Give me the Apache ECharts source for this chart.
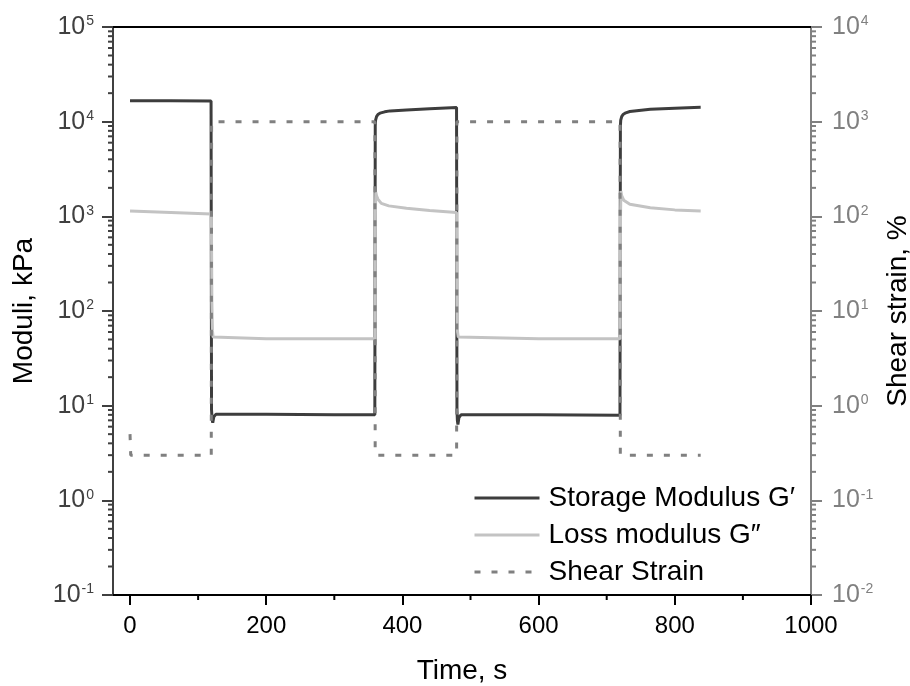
<!DOCTYPE html>
<html>
<head>
<meta charset="utf-8">
<script src="https://cdn.jsdelivr.net/npm/echarts@6/dist/echarts.min.js"></script>
<style>html,body{margin:0;padding:0;background:#fff;overflow:hidden}#chart{width:910px;height:686px}</style>
</head>
<body>
<div id="chart"></div>
<script>
// ---- data ----
const storageTime = [0, 60, 119, 119.7, 120.5, 121.5, 123, 126, 200, 300, 359.5, 360.1, 360.6, 362, 364, 367, 374, 382, 406, 440, 479.5, 480.1, 480.7, 481.5, 483, 486, 600, 719.5, 720.1, 720.6, 722, 724, 728, 734, 764, 800, 838];
const storageModulus = [16600, 16600, 16500, 9, 7.2, 6.6, 7.6, 8.1, 8.1, 8.0, 8.0, 9000, 10400, 11300, 11900, 12300, 12700, 13000, 13300, 13700, 14100, 9, 7.0, 6.3, 7.5, 8.0, 8.0, 7.9, 9000, 10400, 11300, 11900, 12400, 12800, 13500, 13900, 14200];
const lossTime = [0, 60, 119.5, 120.2, 121, 122, 123.5, 200, 300, 359.6, 360.3, 360.8, 362, 364, 369, 380, 406, 440, 479.5, 480.2, 481, 482, 483.5, 600, 719.6, 720.3, 720.8, 722, 725, 734, 764, 800, 838];
const lossModulus = [1140, 1100, 1060, 120, 62, 53, 51, 51, 51, 51, 1000, 1800, 1650, 1520, 1370, 1290, 1220, 1150, 1100, 120, 60, 53, 51, 51, 51, 1000, 1850, 1650, 1480, 1340, 1230, 1170, 1140];
const strainTime = [0, 1, 119.3, 119.8, 359.6, 360, 479.6, 480, 719.6, 720, 838];
const shearStrain = [0.5, 0.3, 0.3, 1000, 1000, 0.3, 0.3, 1000, 1000, 0.3, 0.3];
const seriesNames = ['Storage Modulus G\u2032', 'Loss modulus G\u2033', 'Shear Strain'];
const xTickValues = [0, 200, 400, 600, 800, 1000];
const xMinorTickValues = [100, 300, 500, 700, 900];
const minorMantissas = [2, 3, 4, 5, 6, 7, 8, 9];
const leftDecades = [0.1, 1, 10, 100, 1000, 10000];

const X_MIN = -25, X_MAX = 1000;
const YL_MIN = 0.1, YL_MAX = 1e5;
const YR_MIN = 0.01, YR_MAX = 1e4;

const pairs = (xs, ys) => xs.map((x, i) => [x, ys[i]]);
const yMinor = [];
leftDecades.forEach(d => minorMantissas.forEach(m => yMinor.push([X_MIN, +(m * d).toPrecision(3)])));
const xMinor = xMinorTickValues.map(v => [v, YL_MIN]);

const FONT = '"Liberation Sans", Arial, sans-serif';
const supFormatter = v => '10{sup|' + Math.round(Math.log10(v)) + '}';
const supRich = color => ({ sup: { fontSize: 14, color: color, verticalAlign: 'top', fontFamily: FONT, padding: [0, 0, 0, 1] } });

const chart = echarts.init(document.getElementById('chart'), null, { renderer: 'canvas' });
chart.setOption({
  animation: false,
  backgroundColor: '#fff',
  textStyle: { fontFamily: FONT },
  grid: { left: 113, right: 99, top: 27, bottom: 91, containLabel: false, outerBoundsMode: 'none' },
  legend: {
    orient: 'vertical', left: 473, top: 484, padding: 0,
    itemWidth: 65, itemHeight: 14, itemGap: 9,
    itemStyle: { opacity: 0 },
    lineStyle: { width: 3 },
    textStyle: { fontSize: 28, color: '#000', lineHeight: 27, fontFamily: FONT, padding: [0, 0, 0, 4] },
    data: seriesNames
  },
  xAxis: [{
    type: 'value', min: X_MIN, max: X_MAX, position: 'bottom',
    axisLine: { show: true, onZero: false, lineStyle: { color: '#000', width: 2 } },
    axisTick: { show: true, customValues: xTickValues, length: 10, lineStyle: { color: '#000', width: 2 } },
    axisLabel: { customValues: xTickValues, formatter: v => String(v), fontSize: 24, color: '#000', margin: 19, fontFamily: FONT },
    splitLine: { show: false },
    name: 'Time, s', nameLocation: 'middle', nameGap: 62,
    nameTextStyle: { fontSize: 28, color: '#000', fontFamily: FONT }
  }, {
    type: 'value', min: X_MIN, max: X_MAX, position: 'top',
    axisLine: { show: true, onZero: false, lineStyle: { color: '#000', width: 2 } },
    axisTick: { show: false }, axisLabel: { show: false }, splitLine: { show: false }
  }],
  yAxis: [{
    type: 'log', logBase: 10, min: YL_MIN, max: YL_MAX, position: 'left', splitNumber: 6,
    axisLine: { show: true, onZero: false, lineStyle: { color: '#404040', width: 2 } },
    axisTick: { show: true, length: 11, lineStyle: { color: '#404040', width: 2 } },
    axisLabel: { formatter: supFormatter, rich: supRich('#404040'), fontSize: 25, color: '#404040', margin: 19, fontFamily: FONT },
    splitLine: { show: false },
    name: 'Moduli, kPa', nameLocation: 'middle', nameGap: 75, nameRotate: 90,
    nameTextStyle: { fontSize: 28, color: '#000', fontFamily: FONT }
  }, {
    type: 'log', logBase: 10, min: YR_MIN, max: YR_MAX, position: 'right', splitNumber: 6,
    axisLine: { show: true, onZero: false, lineStyle: { color: '#808080', width: 2 } },
    axisTick: { show: true, length: 11, lineStyle: { color: '#808080', width: 2 } },
    axisLabel: { formatter: supFormatter, rich: supRich('#808080'), fontSize: 25, color: '#808080', margin: 21, fontFamily: FONT },
    splitLine: { show: false },
    name: 'Shear strain, %', nameLocation: 'middle', nameGap: 64, nameRotate: 90,
    nameTextStyle: { fontSize: 28, color: '#000', fontFamily: FONT }
  }],
  series: [{
    name: seriesNames[0], type: 'line', xAxisIndex: 0, yAxisIndex: 0,
    symbol: 'none', showSymbol: false,
    lineStyle: { color: '#3d3d3d', width: 3 }, itemStyle: { color: '#3d3d3d' },
    data: pairs(storageTime, storageModulus), z: 3
  }, {
    name: seriesNames[1], type: 'line', xAxisIndex: 0, yAxisIndex: 0,
    symbol: 'none', showSymbol: false,
    lineStyle: { color: '#c3c3c3', width: 3 }, itemStyle: { color: '#c3c3c3' },
    data: pairs(lossTime, lossModulus), z: 4
  }, {
    name: seriesNames[2], type: 'line', xAxisIndex: 0, yAxisIndex: 1,
    symbol: 'none', showSymbol: false,
    lineStyle: { color: '#808080', width: 3, type: [6, 11] }, itemStyle: { color: '#808080' },
    data: pairs(strainTime, shearStrain), z: 5
  }, {
    name: 'yMinorTicks', type: 'custom', xAxisIndex: 0, yAxisIndex: 0, clip: false, silent: true,
    data: yMinor,
    renderItem: function (params, api) {
      const v = api.value(1);
      const pL = api.coord([X_MIN, v]);
      const pR = api.coord([X_MAX, v]);
      return { type: 'group', children: [
        { type: 'line', shape: { x1: pL[0] - 5, y1: pL[1], x2: pL[0], y2: pL[1] }, style: { stroke: '#404040', lineWidth: 2 } },
        { type: 'line', shape: { x1: pR[0], y1: pR[1], x2: pR[0] + 5, y2: pR[1] }, style: { stroke: '#808080', lineWidth: 2 } }
      ] };
    }
  }, {
    name: 'xMinorTicks', type: 'custom', xAxisIndex: 0, yAxisIndex: 0, clip: false, silent: true,
    data: xMinor,
    renderItem: function (params, api) {
      const p = api.coord([api.value(0), YL_MIN]);
      return { type: 'line', shape: { x1: p[0], y1: p[1], x2: p[0], y2: p[1] + 5 }, style: { stroke: '#000', lineWidth: 2 } };
    }
  }]
});
</script>
</body>
</html>
